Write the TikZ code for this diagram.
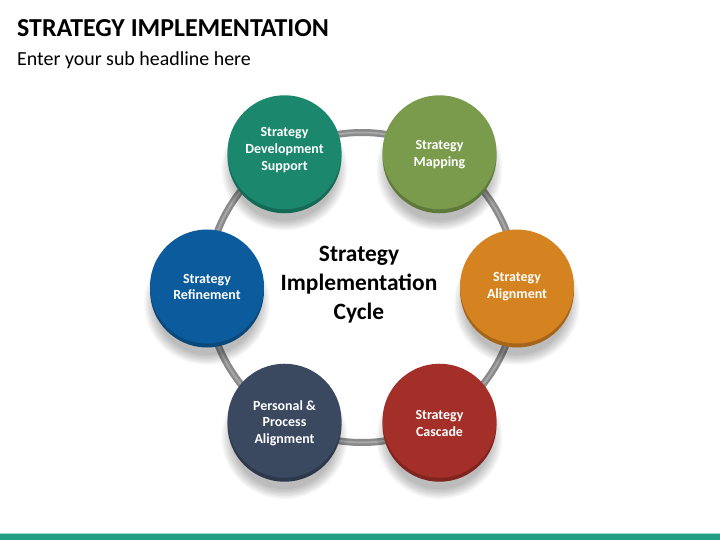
\documentclass[tikz,border=0pt]{standalone}
\usetikzlibrary{calc}
\usepackage{fontspec}
\setmainfont{Carlito}
\definecolor{cteal}{RGB}{27,136,110}
\definecolor{cgreen}{RGB}{122,155,76}
\definecolor{corange}{RGB}{213,131,32}
\definecolor{cred}{RGB}{164,46,40}
\definecolor{cnavy}{RGB}{58,73,96}
\definecolor{cblue}{RGB}{12,92,157}
\definecolor{cbar}{RGB}{31,158,131}
\definecolor{cring}{RGB}{138,138,138}
\begin{document}
\begin{tikzpicture}[x=1bp,y=-1bp,
  facetext/.style={inner sep=0pt,text=white,align=center,
    font=\fontsize{14}{17}\selectfont\bfseries},
  title/.style={anchor=base west,inner sep=0pt,font=\fontsize{26}{30}\selectfont\bfseries},
  subtitle/.style={anchor=base west,inner sep=0pt,font=\fontsize{20}{24}\selectfont},
  centertext/.style={align=center,inner sep=0pt,font=\fontsize{23.5}{29}\selectfont\bfseries}]
\useasboundingbox (0,0) rectangle (720,540);
\fill[white] (0,0) rectangle (720,540);
\node[title] (t) at (17,37) {STRATEGY IMPLEMENTATION};
\node[subtitle] (s) at (17,66) {Enter your sub headline here};
\fill[cbar] (0,534) rectangle (720,540);
\fill[cbar!40] (0,532.5) rectangle (720,534);
\coordinate (ctr) at (362,287.5);
\draw[line width=7bp,cring] (ctr) circle (155);
\draw[line width=2bp,cring!75!white] (ctr) circle (155);
\foreach \n/\ang/\col/\dy/\txt in {a/120/cteal/-3/{Strategy\\Development\\Support},
  b/60/cgreen/1.5/{Strategy\\Mapping},
  c/0/corange/-0.5/{Strategy\\Alignment},
  d/-60/cred/2/{Strategy\\Cascade},
  e/-120/cnavy/1.5/{Personal \&\\Process\\Alignment},
  f/180/cblue/-0.5/{Strategy\\Refinement}}{
  \coordinate (p\n) at ($(ctr)+({155*cos(\ang)},{-155*sin(\ang)})$);
  \foreach \k in {1,...,8}{
    \fill[black,opacity=0.035] ($(p\n)+(0,16)$) ellipse ({50+1.6*\k} and {50+1.4*\k});
  }
  \fill[\col!78!black] ($(p\n)+(0,3)$) circle (57);
  \fill[\col] ($(p\n)+(0,-1)$) circle (57);
  \node[facetext] (\n) at ($(p\n)+(0,\dy)$) {\txt};
}
\node[centertext] (m) at (359,285) {Strategy\\Implementation\\Cycle};
\end{tikzpicture}
\end{document}
